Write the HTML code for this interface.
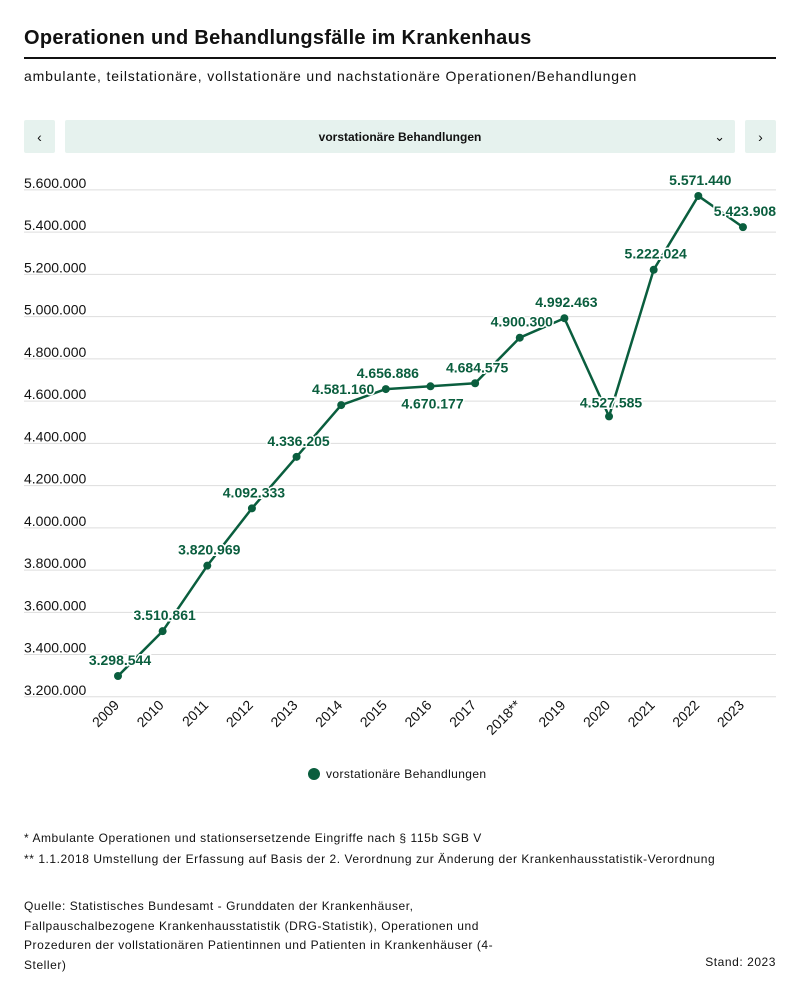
<!DOCTYPE html>
<html><head><meta charset="utf-8"><style>
body{margin:0;background:#fff;font-family:"Liberation Sans",sans-serif;color:#111;}
.wrap{position:relative;width:800px;height:995px;overflow:hidden}
.t{position:absolute;left:24px;top:27px;font-size:20px;font-weight:bold;letter-spacing:0.3px}
.hr{position:absolute;left:24px;top:57px;width:752px;height:2px;background:#111}
.st{position:absolute;left:24px;top:68px;font-size:14px;letter-spacing:0.85px}
.btn{position:absolute;top:120px;height:33px;background:#e6f2ee;border-radius:2px;font-size:14px;display:flex;align-items:center;justify-content:center}
.foot{position:absolute;left:24px;font-size:12px;line-height:21px;letter-spacing:0.55px}
</style></head><body><div class="wrap">
<div class="t">Operationen und Behandlungsfälle im Krankenhaus</div>
<div class="hr"></div>
<div class="st">ambulante, teilstationäre, vollstationäre und nachstationäre Operationen/Behandlungen</div>
<div class="btn" style="left:24px;width:31px">‹</div>
<div class="btn" style="left:65px;width:670px;font-size:12px;font-weight:bold">vorstationäre Behandlungen<span style="position:absolute;right:10px;font-weight:normal;font-size:13px">⌄</span></div>
<div class="btn" style="left:745px;width:31px">›</div>
<svg width="800" height="800" style="position:absolute;left:0;top:0" font-family="Liberation Sans, sans-serif">
<g id="grid" stroke="#ddd" stroke-width="1"></g>
<g id="yl" font-size="14" fill="#111"></g>
<g id="xl" font-size="14" fill="#111"></g>
<polyline id="ln" fill="none" stroke="#0a5e3e" stroke-width="2.5" stroke-linejoin="round"/>
<g id="pts" fill="#0a5e3e"></g>
<g id="lb" font-size="14" font-weight="bold" fill="#0a5e3e" text-anchor="middle" stroke="#fff" stroke-width="3" paint-order="stroke"></g>
<circle cx="314" cy="774" r="6" fill="#0a5e3e"/>
<text x="326" y="778" font-size="12" fill="#111" letter-spacing="0.4">vorstationäre Behandlungen</text>
</svg>
<div class="foot" style="top:828px">* Ambulante Operationen und stationsersetzende Eingriffe nach § 115b SGB V<br>** 1.1.2018 Umstellung der Erfassung auf Basis der 2. Verordnung zur Änderung der Krankenhausstatistik-Verordnung</div>
<div class="foot" style="top:897px;width:480px;line-height:19.5px">Quelle: Statistisches Bundesamt - Grunddaten der Krankenhäuser,<br>Fallpauschalbezogene Krankenhausstatistik (DRG-Statistik), Operationen und<br>Prozeduren der vollstationären Patientinnen und Patienten in Krankenhäuser (4-<br>Steller)</div>
<div class="foot" style="top:952px;right:24px;left:auto">Stand: 2023</div>
</div>
<script>
var ns="http://www.w3.org/2000/svg";
function el(p,t,a,tx){var e=document.createElementNS(ns,t);for(var k in a)e.setAttribute(k,a[k]);if(tx)e.textContent=tx;document.getElementById(p).appendChild(e);}
function fmt(v){return String(v).replace(/\B(?=(\d{3})+(?!\d))/g,".");}
function Y(v){return 696.8-(v-3200000)*2.112e-4;}
for(var i=0;i<=12;i++){var v=3200000+i*200000,y=Y(v);el("grid","line",{x1:24,x2:776,y1:y,y2:y});el("yl","text",{x:24,y:y-2},fmt(v));}
var yrs=["2009","2010","2011","2012","2013","2014","2015","2016","2017","2018**","2019","2020","2021","2022","2023"];
var d=[3298544,3510861,3820969,4092333,4336205,4581160,4656886,4670177,4684575,4900300,4992463,4527585,5222024,5571440,5423908];
var pts=[];
d.forEach(function(v,i){var x=118+i*44.64,y=Y(v);pts.push(x+","+y);el("pts","circle",{cx:x,cy:y,r:4});
el("xl","text",{x:x+2,y:706,"text-anchor":"end",transform:"rotate(-45 "+(x+2)+" 706)"},yrs[i]);
var ly=(i==7)?y+22:(i==11?y-9:y-11);el("lb","text",{x:x+2,y:ly},fmt(v));});
document.getElementById("ln").setAttribute("points",pts.join(" "));
</script>
</body></html>
